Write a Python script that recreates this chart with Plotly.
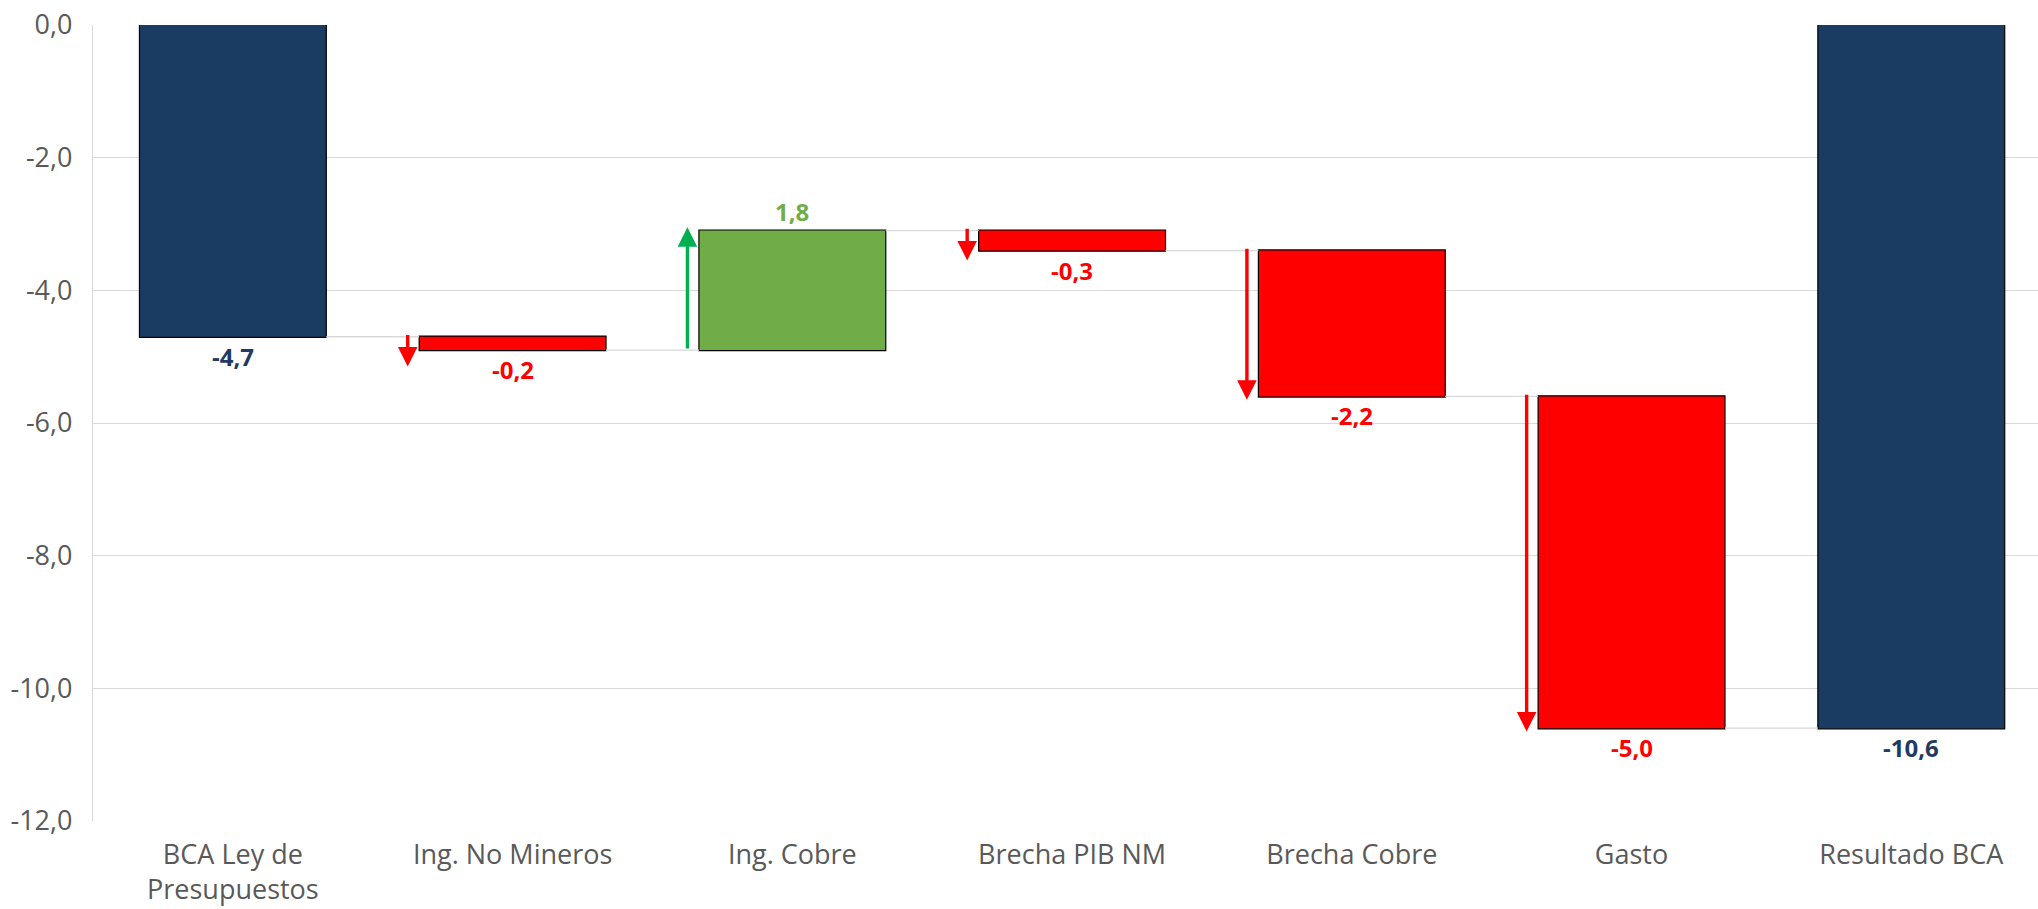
import plotly.graph_objects as go

# Budget balance bridge (% of GDP)
categories = ["BCA Ley de<br>Presupuestos", "Ing. No Mineros", "Ing. Cobre",
              "Brecha PIB NM", "Brecha Cobre", "Gasto", "Resultado BCA"]
measures = ["absolute", "relative", "relative", "relative", "relative", "relative", "total"]
values = [-4.7, -0.2, 1.8, -0.3, -2.2, -5.0, -10.6]

y_tickvals = [0, -2, -4, -6, -8, -10, -12]
y_ticktext = ["0,0", "-2,0", "-4,0", "-6,0", "-8,0", "-10,0", "-12,0"]

NAVY = "#1A3C63"
NAVY_TEXT = "#1F3A63"
RED = "#FF0000"
GREEN_BAR = "#70AD47"
GREEN_ARROW = "#00B050"
GRID = "#D9D9D9"
TICK_GRAY = "#595959"

fig = go.Figure()
fig.add_trace(go.Waterfall(
    x=list(range(len(categories))),
    y=values,
    measure=measures,
    increasing=dict(marker=dict(color=GREEN_BAR, line=dict(color="#000000", width=1.2))),
    decreasing=dict(marker=dict(color=RED, line=dict(color="#000000", width=1.2))),
    totals=dict(marker=dict(color=NAVY, line=dict(color="#000000", width=1.2))),
    connector=dict(mode="between", line=dict(color=GRID, width=1.3)),
    hoverinfo="skip",
))

# running start/end of every bar, used for labels and arrows
annotations = []
level = 0.0
for i, (m, v) in enumerate(zip(measures, values)):
    if m == "absolute":
        start, end = 0.0, v
    elif m == "total":
        start, end = 0.0, level
    else:
        start, end = level, level + v
    level = end
    delta = v if m == "relative" else end
    if m == "relative":
        color = GREEN_BAR if v > 0 else RED
    else:
        color = NAVY_TEXT
    label = f"{delta:.1f}".replace(".", ",")
    low, high = min(start, end), max(start, end)
    label_font = dict(family="Open Sans", size=24, color=color, weight="bold")
    if delta >= 0:
        annotations.append(dict(x=i, y=high, xref="x", yref="y", text=label, showarrow=False,
                                yanchor="bottom", yshift=1, font=label_font))
    else:
        annotations.append(dict(x=i, y=low, xref="x", yref="y", text=label, showarrow=False,
                                yanchor="top", yshift=-1, font=label_font))
    if m == "relative":
        direction = 1 if v > 0 else -1
        length = max(abs(v) + 0.05, 0.45)
        tip = start + direction * length
        ax = i - 0.375
        annotations.append(dict(
            x=ax, y=tip, ax=ax, ay=start + (0.05 if direction < 0 else 0.0),
            xref="x", yref="y", axref="x", ayref="y",
            text="", showarrow=True, arrowhead=2, arrowsize=1.15, arrowwidth=3.4,
            arrowcolor=GREEN_ARROW if v > 0 else RED, standoff=0, startstandoff=0,
        ))

fig.update_layout(
    width=2038, height=909,
    margin=dict(l=93, r=0, t=25, b=88),
    paper_bgcolor="white", plot_bgcolor="white",
    waterfallgap=0.332,
    showlegend=False,
    annotations=annotations,
    font=dict(family="Open Sans", color=TICK_GRAY),
    xaxis=dict(
        tickmode="array", tickvals=list(range(len(categories))), ticktext=categories,
        range=[-0.5, 6.453], showgrid=False, zeroline=False, showline=False,
        tickfont=dict(family="Open Sans", size=27, color=TICK_GRAY),
        ticks="", ticklabelstandoff=15,
    ),
    yaxis=dict(
        range=[-12, 0], tickmode="array", tickvals=y_tickvals, ticktext=y_ticktext,
        showgrid=True, gridcolor=GRID, gridwidth=1.3, zeroline=False,
        showline=True, linecolor=GRID, linewidth=1.3,
        tickfont=dict(family="Open Sans", size=27, color=TICK_GRAY),
        ticks="", ticklabelstandoff=14,
    ),
)

fig.write_html("out.html")
